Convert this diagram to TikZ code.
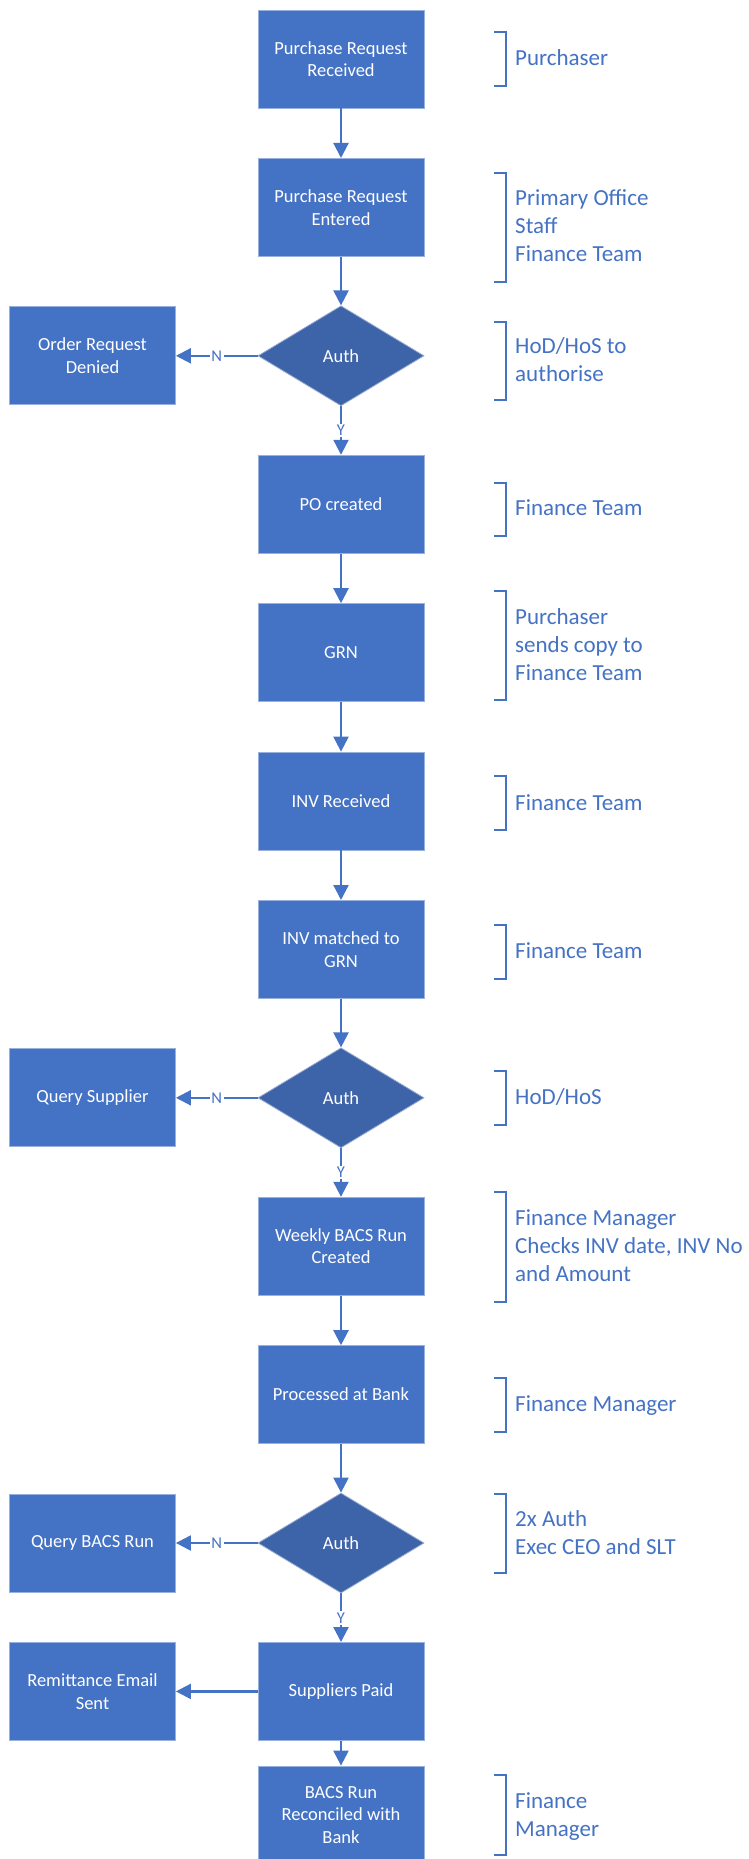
\documentclass[tikz,border=0pt]{standalone}
\usepackage{fontspec}
\setmainfont{Carlito}
\usetikzlibrary{shapes.geometric,arrows.meta}
\definecolor{boxblue}{HTML}{4472C4}
\definecolor{diablue}{HTML}{3D63A9}
\tikzset{
  proc/.style={rectangle, fill=boxblue, draw=boxblue!55!white, line width=0.8pt,
    minimum width=166pt, minimum height=98pt, inner sep=0pt, align=center,
    text=white, font=\fontsize{18.5}{22.6}\selectfont},
  dec/.style={diamond, fill=diablue, draw=diablue!55!white, line width=0.8pt,
    minimum width=166pt, minimum height=100pt, inner sep=0pt, aspect=1.66,
    text=white, font=\fontsize{18.5}{22.6}\selectfont},
  flow/.style={draw=boxblue, line width=2.2pt, -{Triangle[width=15pt,length=15pt]}},
  lbl/.style={fill=white, inner sep=1.5pt, text=boxblue, font=\fontsize{16.5}{19}\selectfont},
  note/.style={anchor=base west, inner sep=0pt, align=left, text=boxblue,
    font=\fontsize{23}{28}\selectfont},
  brk/.style={draw=boxblue, line width=2pt},
}
\newcommand{\mybrk}[2]{\draw[brk] (494,#1) -- (505.5,#1) -- (505.5,#2) -- (494,#2);}
\begin{document}
\begin{tikzpicture}[x=1pt,y=-1pt]
\useasboundingbox (0,0) rectangle (748,1859);
\clip (0,0) rectangle (748,1859);
% main column
\node[proc] (b0) at (341,59) {Purchase Request\\Received};
\node[proc] (b1) at (341,207.4) {Purchase Request\\Entered};
\node[dec]  (d2) at (341,355.8) {Auth};
\node[proc] (l2) at (92.5,355.8) {Order Request\\Denied};
\node[proc] (b3) at (341,504.2) {PO created};
\node[proc] (b4) at (341,652.6) {GRN};
\node[proc] (b5) at (341,801) {INV Received};
\node[proc] (b6) at (341,949.4) {INV matched to\\GRN};
\node[dec]  (d7) at (341,1097.8) {Auth};
\node[proc] (l7) at (92.5,1097.8) {Query Supplier};
\node[proc] (b8) at (341,1246.2) {Weekly BACS Run\\Created};
\node[proc] (b9) at (341,1394.6) {Processed at Bank};
\node[dec]  (d10) at (341,1543) {Auth};
\node[proc] (l10) at (92.5,1543) {Query BACS Run};
\node[proc] (b11) at (341,1691.4) {Suppliers Paid};
\node[proc] (l11) at (92.5,1691.4) {Remittance Email\\Sent};
\node[proc] (b12) at (341,1815) {BACS Run\\Reconciled with\\Bank};
% connectors
\draw[flow] (b0) -- (b1);
\draw[flow] (b1) -- (d2);
\draw[flow] (d2) -- node[lbl] {N} (l2);
\draw[flow] (d2) -- node[lbl] {Y} (b3);
\draw[flow] (b3) -- (b4);
\draw[flow] (b4) -- (b5);
\draw[flow] (b5) -- (b6);
\draw[flow] (b6) -- (d7);
\draw[flow] (d7) -- node[lbl] {N} (l7);
\draw[flow] (d7) -- node[lbl] {Y} (b8);
\draw[flow] (b8) -- (b9);
\draw[flow] (b9) -- (d10);
\draw[flow] (d10) -- node[lbl] {N} (l10);
\draw[flow] (d10) -- node[lbl] {Y} (b11);
\draw[flow] (b11) -- (l11);
\draw[flow] (b11) -- (b12);
% annotations (base = baseline of last line)
\mybrk{32}{86}
\node[note] (t0) at (515,65.5) {Purchaser};
\mybrk{173}{282}
\node[note] (t1) at (515,261.5) {Primary Office\\Staff\\Finance Team};
\mybrk{322}{400}
\node[note] (t2) at (515,381.5) {HoD/HoS to\\authorise};
\mybrk{483}{536}
\node[note] (t3) at (515,515.5) {Finance Team};
\mybrk{591}{700}
\node[note] (t4) at (515,680.5) {Purchaser\\sends copy to\\Finance Team};
\mybrk{776}{830}
\node[note] (t5) at (515,810.5) {Finance Team};
\mybrk{925}{979}
\node[note] (t6) at (515,958.5) {Finance Team};
\mybrk{1071}{1125}
\node[note] (t7) at (515,1104.5) {HoD/HoS};
\mybrk{1192}{1302}
\node[note] (t8) at (515,1281.5) {Finance Manager\\Checks INV date, INV No\\and Amount};
\mybrk{1378}{1432}
\node[note] (t9) at (515,1411.5) {Finance Manager};
\mybrk{1494}{1573}
\node[note] (t10) at (515,1554.5) {2x Auth\\Exec CEO and SLT};
\mybrk{1775}{1855}
\node[note] (t12) at (515,1836.5) {Finance\\Manager};
\end{tikzpicture}
\end{document}
